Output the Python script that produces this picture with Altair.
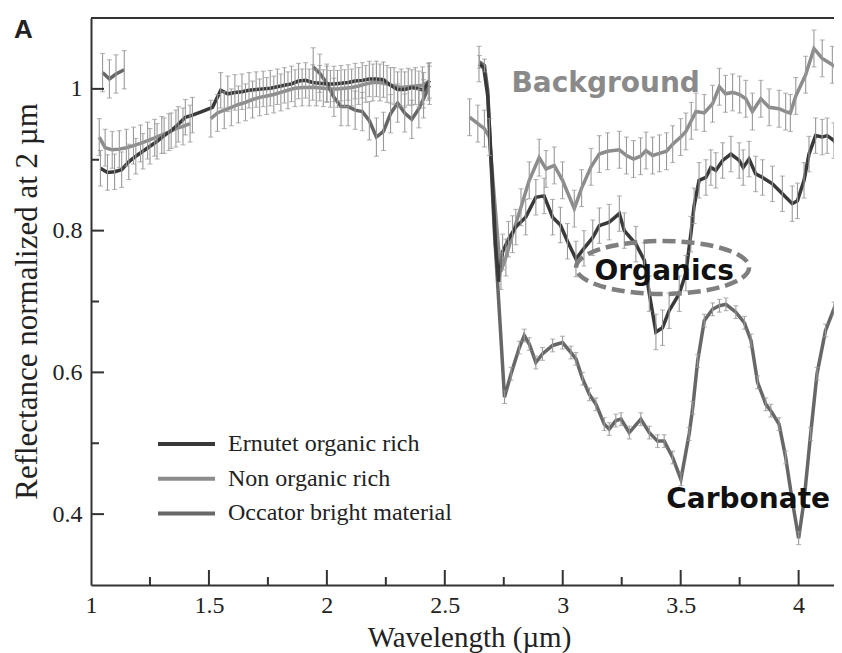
import altair as alt
import pandas as pd

W, H = 743, 567
X_DOMAIN = [1.0, 4.15]
Y_DOMAIN = [0.3, 1.1]

SERIES = ["Ernutet organic rich", "Non organic rich", "Occator bright material"]
COLORS = ["#393939", "#8c8c8c", "#676767"]

# ---- Ernutet organic rich ----
ERN_L_X = [1.04, 1.07, 1.10, 1.13, 1.16, 1.19, 1.22, 1.25, 1.28, 1.31, 1.34, 1.37, 1.40, 1.43, 1.47, 1.515,
           1.55, 1.58, 1.61, 1.64, 1.67, 1.70, 1.73, 1.76, 1.79, 1.82, 1.85, 1.88, 1.91, 1.94, 1.97, 2.00,
           2.03, 2.06, 2.09, 2.12, 2.15, 2.18, 2.21, 2.24, 2.27, 2.30, 2.33, 2.36, 2.39, 2.41, 2.435]
ERN_L_Y = [0.888, 0.882, 0.883, 0.886, 0.897, 0.905, 0.912, 0.919, 0.926, 0.934, 0.941, 0.950, 0.960, 0.963,
           0.968, 0.974, 0.998, 0.993, 0.995, 0.996, 0.998, 0.999, 1.000, 1.001, 1.003, 1.005, 1.007, 1.011,
           1.012, 1.009, 1.008, 1.007, 1.007, 1.008, 1.009, 1.011, 1.012, 1.014, 1.014, 1.013, 1.005, 0.999,
           0.999, 1.002, 1.000, 0.998, 1.012]
ERN_R_X = [2.645, 2.665, 2.682, 2.70, 2.715, 2.728, 2.745, 2.77, 2.801, 2.843, 2.886, 2.921, 2.957, 2.99,
           3.02, 3.056, 3.09, 3.127, 3.155, 3.197, 3.24, 3.261, 3.31, 3.346, 3.367, 3.395, 3.423, 3.451,
           3.494, 3.522, 3.543, 3.557, 3.578, 3.607, 3.628, 3.649, 3.678, 3.713, 3.748, 3.765, 3.79, 3.818,
           3.847, 3.889, 3.931, 3.973, 3.995, 4.023, 4.044, 4.072, 4.10, 4.121, 4.15, 4.18]
ERN_R_Y = [1.035, 1.030, 0.990, 0.880, 0.780, 0.728, 0.770, 0.788, 0.805, 0.819, 0.847, 0.849, 0.819, 0.808,
           0.785, 0.760, 0.775, 0.790, 0.807, 0.812, 0.824, 0.800, 0.781, 0.758, 0.711, 0.657, 0.663, 0.687,
           0.711, 0.740, 0.795, 0.835, 0.871, 0.875, 0.889, 0.885, 0.899, 0.908, 0.899, 0.889, 0.901, 0.880,
           0.875, 0.866, 0.852, 0.838, 0.842, 0.871, 0.908, 0.934, 0.932, 0.934, 0.927, 0.913]

# ---- Non organic rich ----
NON_L1_X = [1.035, 1.06, 1.09, 1.12, 1.15, 1.18, 1.21, 1.24, 1.27, 1.30, 1.33, 1.36, 1.39, 1.42]
NON_L1_Y = [0.932, 0.917, 0.914, 0.915, 0.917, 0.920, 0.923, 0.927, 0.931, 0.935, 0.939, 0.944, 0.947, 0.951]
NON_L2_X = [1.508, 1.536, 1.565, 1.595, 1.625, 1.655, 1.685, 1.715, 1.745, 1.775, 1.805, 1.835, 1.865, 1.895,
            1.925, 1.955, 1.985, 2.015, 2.045, 2.075, 2.105, 2.135, 2.165, 2.195, 2.225, 2.255, 2.285, 2.315,
            2.345, 2.375, 2.405, 2.43]
NON_L2_Y = [0.958, 0.966, 0.970, 0.974, 0.978, 0.981, 0.985, 0.988, 0.990, 0.992, 0.995, 0.998, 1.001, 1.002,
            1.002, 1.002, 1.001, 1.000, 1.000, 1.001, 1.002, 1.004, 1.007, 1.009, 1.009, 1.007, 1.004, 1.002,
            1.003, 1.004, 1.005, 1.010]
NON_R_X = [2.605, 2.64, 2.668, 2.689, 2.71, 2.731, 2.738, 2.759, 2.787, 2.823, 2.858, 2.90, 2.929, 2.964,
           2.999, 3.049, 3.08, 3.12, 3.155, 3.19, 3.24, 3.27, 3.30, 3.33, 3.353, 3.381, 3.41, 3.44, 3.466,
           3.50, 3.522, 3.545, 3.565, 3.60, 3.635, 3.664, 3.69, 3.72, 3.75, 3.776, 3.804, 3.84, 3.875, 3.917,
           3.945, 3.965, 3.988, 4.03, 4.065, 4.10, 4.143, 4.18]
NON_R_Y = [0.960, 0.951, 0.944, 0.932, 0.847, 0.762, 0.743, 0.762, 0.795, 0.833, 0.871, 0.903, 0.887, 0.892,
           0.871, 0.831, 0.860, 0.890, 0.908, 0.912, 0.914, 0.906, 0.901, 0.905, 0.913, 0.906, 0.909, 0.912,
           0.922, 0.932, 0.940, 0.955, 0.968, 0.966, 0.979, 1.003, 0.993, 0.995, 0.992, 0.986, 0.968, 0.986,
           0.974, 0.972, 0.968, 0.966, 0.990, 1.020, 1.057, 1.043, 1.034, 1.027]

# ---- Occator bright material ----
OCC_L1_X = [1.049, 1.078, 1.106, 1.141]
OCC_L1_Y = [1.023, 1.014, 1.021, 1.027]
OCC_L2_X = [1.942, 1.97, 2.00, 2.03, 2.06, 2.09, 2.12, 2.15, 2.18, 2.21, 2.24, 2.27, 2.30, 2.33, 2.36, 2.39,
            2.41, 2.435]
OCC_L2_Y = [1.031, 1.022, 1.008, 0.988, 0.975, 0.975, 0.970, 0.968, 0.955, 0.932, 0.940, 0.965, 0.980, 0.966,
            0.957, 0.972, 0.986, 1.005]
OCC_R_X = [2.647, 2.668, 2.682, 2.696, 2.71, 2.724, 2.736, 2.753, 2.781, 2.816, 2.837, 2.858, 2.886, 2.914,
           2.957, 2.999, 3.035, 3.056, 3.084, 3.113, 3.141, 3.176, 3.197, 3.225, 3.247, 3.282, 3.331, 3.367,
           3.402, 3.43, 3.466, 3.501, 3.536, 3.551, 3.572, 3.60, 3.635, 3.664, 3.692, 3.734, 3.77, 3.798,
           3.826, 3.861, 3.882, 3.917, 3.945, 3.973, 4.00, 4.023, 4.051, 4.078, 4.114, 4.15, 4.18]
OCC_R_Y = [1.038, 1.033, 0.998, 0.894, 0.800, 0.725, 0.659, 0.565, 0.598, 0.635, 0.652, 0.640, 0.614, 0.626,
           0.638, 0.642, 0.628, 0.619, 0.591, 0.569, 0.555, 0.527, 0.520, 0.532, 0.534, 0.515, 0.534, 0.515,
           0.503, 0.503, 0.480, 0.449, 0.513, 0.550, 0.616, 0.673, 0.689, 0.694, 0.696, 0.685, 0.670, 0.645,
           0.586, 0.555, 0.546, 0.527, 0.480, 0.419, 0.366, 0.419, 0.513, 0.598, 0.659, 0.690, 0.712]

# error half-widths per segment, and points drawn without error bars
ERR_ERN = 0.025
ERR_NON = 0.026
ERR_OCC_L = 0.027
ERR_OCC_R = 0.009
NOBAR_ERN = [1.47, 1.515, 2.665, 2.682, 2.70, 2.715, 2.728]
NOBAR_NON = [2.71, 2.731]
NOBAR_OCC = [2.682, 2.696, 2.71, 2.724, 2.736]

X_LABELS = [1.0, 1.5, 2.0, 2.5, 3.0, 3.5, 4.0]
Y_LABELS = [0.4, 0.6, 0.8, 1.0]
X_MAJOR_TICKS = [1.5, 2.0, 2.5, 3.0, 3.5, 4.0]
X_MINOR_TICKS = [1.25, 1.75, 2.25, 2.75, 3.25, 3.75]
Y_MAJOR_TICKS = [0.4, 0.6, 0.8, 1.0]
Y_MINOR_TICKS = [0.5, 0.7, 0.9]

# ---- build tables ----
segments = [
    (SERIES[1], "non_l1", NON_L1_X, NON_L1_Y, ERR_NON, NOBAR_NON),
    (SERIES[1], "non_l2", NON_L2_X, NON_L2_Y, ERR_NON, NOBAR_NON),
    (SERIES[1], "non_r", NON_R_X, NON_R_Y, ERR_NON, NOBAR_NON),
    (SERIES[2], "occ_l1", OCC_L1_X, OCC_L1_Y, ERR_OCC_L, NOBAR_OCC),
    (SERIES[2], "occ_l2", OCC_L2_X, OCC_L2_Y, ERR_OCC_L, NOBAR_OCC),
    (SERIES[2], "occ_r", OCC_R_X, OCC_R_Y, ERR_OCC_R, NOBAR_OCC),
    (SERIES[0], "ern_l", ERN_L_X, ERN_L_Y, ERR_ERN, NOBAR_ERN),
    (SERIES[0], "ern_r", ERN_R_X, ERN_R_Y, ERR_ERN, NOBAR_ERN),
]
line_rows, bar_rows, cap_rows = [], [], []
for s, seg, xs, ys, e, nobar in segments:
    for xv, yv in zip(xs, ys, strict=True):
        line_rows.append({"x": xv, "y": yv, "series": s, "seg": seg})
        if xv in nobar:
            continue
        bar_rows.append({"x": xv, "y": yv - e, "y2": yv + e})
        cap_rows.append({"x": xv, "y": yv - e})
        cap_rows.append({"x": xv, "y": yv + e})
lines_df = pd.DataFrame(line_rows)
bars_df = pd.DataFrame(bar_rows)
caps_df = pd.DataFrame(cap_rows)

xs_ = alt.Scale(domain=X_DOMAIN, nice=False, zero=False)
ys_ = alt.Scale(domain=Y_DOMAIN, nice=False, zero=False)
AX = "#333333"
TXT = "#222222"
SERIF = "Liberation Serif"
BAR = "#999999"

X_AXIS = alt.Axis(
    values=X_LABELS, format=".1~f", ticks=False, tickSize=0, grid=False, labelFlush=False,
    labelFont=SERIF, labelFontSize=24, labelColor=TXT, labelPadding=8,
    domainColor=AX, domainWidth=2,
    title="Wavelength (µm)", titleFont=SERIF, titleFontSize=29, titleFontWeight="normal",
    titleColor=TXT, titleX=378, titleY=61, titleBaseline="alphabetic", titleAlign="center")
Y_AXIS = alt.Axis(
    values=Y_LABELS, format=".1~f", ticks=False, tickSize=0, grid=False,
    labelFont=SERIF, labelFontSize=24, labelColor=TXT, labelPadding=9,
    domainColor=AX, domainWidth=2,
    title="Reflectance normalized at 2 µm", titleFont=SERIF, titleFontSize=31,
    titleFontWeight="normal", titleColor=TXT, titleX=-55, titleY=283,
    titleBaseline="alphabetic", titleAlign="center", titleAngle=270)


def X(field="x"):
    return alt.X(f"{field}:Q", scale=xs_, axis=X_AXIS, title="Wavelength (µm)")


def Y(field="y"):
    return alt.Y(f"{field}:Q", scale=ys_, axis=Y_AXIS, title="Reflectance normalized at 2 µm")


bars = alt.Chart(bars_df).mark_rule(color=BAR, strokeWidth=1.1, clip=True).encode(
    x=X(), y=Y(), y2="y2:Q",
)
caps = alt.Chart(caps_df).mark_tick(orient="horizontal", color=BAR, size=5, thickness=1.1,
                                    clip=True).encode(x=X(), y=Y())

lines = alt.Chart(lines_df).mark_line(strokeWidth=3.5, clip=True).encode(
    x=X(), y=Y(),
    color=alt.Color("series:N", scale=alt.Scale(domain=SERIES, range=COLORS), legend=alt.Legend(
        title=None, orient="none", legendX=83.5, legendY=414, padding=0,
        symbolType="M -3 0 L 3 0", symbolSize=361, symbolStrokeWidth=4,
        labelFont=SERIF, labelFontSize=24, labelColor=TXT, labelOffset=29.5,
        rowPadding=10.7, labelLimit=500)),
    detail="seg:N",
)

# dashed ellipse around the organics feature
ELLIPSE = "M -1 0 A 1 0.306 0 1 1 1 0 A 1 0.306 0 1 1 -1 0 Z"
ell = alt.Chart(pd.DataFrame({"x": [3.423], "y": [0.748]})).mark_point(
    shape=ELLIPSE, size=29929, filled=False, stroke="#7f7f7f", strokeWidth=4.5,
    strokeDash=[13, 6], opacity=1).encode(x=X(), y=Y())

ANN_TEXT = ["Background", "Organics", "Carbonate"]
ANN_X = [3.182, 3.430, 3.786]
ANN_Y = [0.995, 0.731, 0.409]
ANN_COLOR = ["#8a8a8a", "#111111", "#111111"]
ann = alt.Chart(pd.DataFrame({"x": ANN_X, "y": ANN_Y, "t": ANN_TEXT, "c": ANN_COLOR})).mark_text(
    font="DejaVu Sans", fontWeight="bold", fontSize=28, align="center", baseline="alphabetic").encode(
    x=X(), y=Y(), text="t:N", color=alt.Color("c:N", scale=None))

one = pd.DataFrame({"a": [0]})
top_border = alt.Chart(one).mark_rule(color=AX, strokeWidth=2).encode(
    x=alt.value(0), x2=alt.value(W), y=alt.value(0))
xmaj = alt.Chart(pd.DataFrame({"x": X_MAJOR_TICKS})).mark_rule(color=AX, strokeWidth=2).encode(
    x=X(), y=alt.value(H), y2=alt.value(H - 15))
xmin = alt.Chart(pd.DataFrame({"x": X_MINOR_TICKS})).mark_rule(color=AX, strokeWidth=2).encode(
    x=X(), y=alt.value(H), y2=alt.value(H - 8))
ymaj = alt.Chart(pd.DataFrame({"y": Y_MAJOR_TICKS})).mark_rule(color=AX, strokeWidth=2).encode(
    y=Y(), x=alt.value(0), x2=alt.value(13))
ymin = alt.Chart(pd.DataFrame({"y": Y_MINOR_TICKS})).mark_rule(color=AX, strokeWidth=2).encode(
    y=Y(), x=alt.value(0), x2=alt.value(8))
panel = alt.Chart(one).mark_text(text="A", font="Liberation Sans", fontWeight="bold", fontSize=26,
                                 align="left", baseline="alphabetic", color=TXT).encode(
    x=alt.value(-77), y=alt.value(20))

chart = alt.layer(lines, bars, caps, ell, ann, top_border, xmaj, xmin, ymaj, ymin, panel).properties(
    width=W, height=H,
    autosize=alt.AutoSizeParams(type="none"),
    padding={"left": 83, "top": 10, "right": 0, "bottom": 68},
).configure_view(stroke=None)

chart.save("out.html", embed_options={"renderer": "svg", "actions": False})
